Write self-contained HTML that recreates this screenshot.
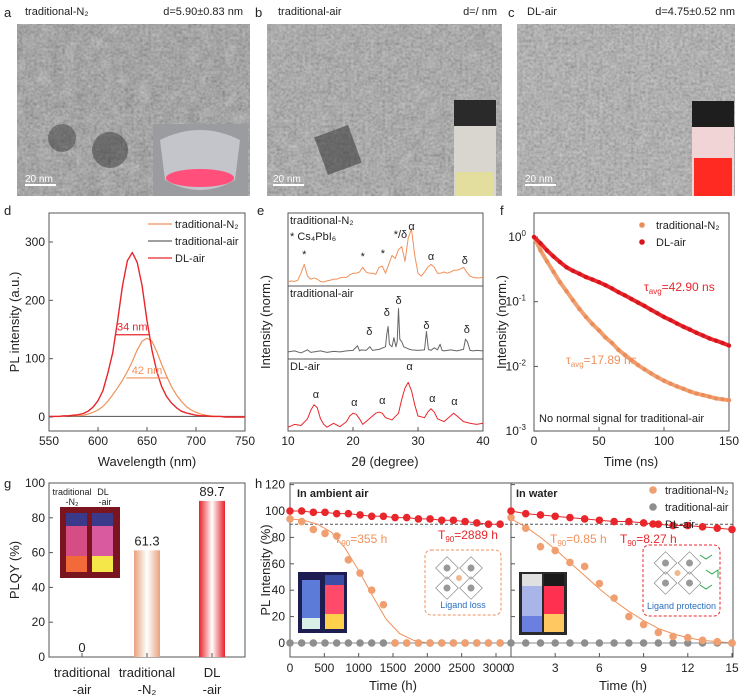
<!DOCTYPE html>
<html><head><meta charset="utf-8"><style>
html,body{margin:0;padding:0;background:#fff}
svg{display:block;font-family:"Liberation Sans",sans-serif}
</style></head><body>
<svg id="fig" width="746" height="697" viewBox="0 0 746 697" xmlns="http://www.w3.org/2000/svg">
<defs>
<filter id="noise" x="0" y="0" width="100%" height="100%"><feTurbulence type="fractalNoise" baseFrequency="0.35" numOctaves="2" seed="3"/><feColorMatrix type="saturate" values="0"/><feComponentTransfer><feFuncA type="linear" slope="0" intercept="1"/></feComponentTransfer></filter>
<filter id="noise2" x="0" y="0" width="100%" height="100%"><feTurbulence type="fractalNoise" baseFrequency="0.08" numOctaves="3" seed="7"/><feColorMatrix type="saturate" values="0"/></filter>
<linearGradient id="barN2" x1="0" x2="1"><stop offset="0" stop-color="#e8a27c"/><stop offset="0.5" stop-color="#fff"/><stop offset="1" stop-color="#e8a27c"/></linearGradient>
<linearGradient id="barDL" x1="0" x2="1"><stop offset="0" stop-color="#e8202a"/><stop offset="0.5" stop-color="#fff"/><stop offset="1" stop-color="#e8202a"/></linearGradient>
</defs>
</svg>
<script>
// ---------- data ----------
const dWave=[550,555,560,565,570,575,580,585,590,595,600,605,610,615,620,625,630,635,640,645,650,655,660,665,670,675,680,685,690,695,700,705,710,715,720,725,730,735,740,745,750];
const dDL=[1,1,1,2,2,3,4,6,10,17,28,45,75,110,165,225,268,282,265,225,165,115,78,52,35,24,16,10,7,5,3,2,2,1,1,1,0,0,0,0,0];
const dN2=[1,1,1,1,2,2,2,3,5,8,12,18,27,38,50,63,78,95,115,130,135,130,112,90,70,52,38,27,18,12,8,5,3,2,1,1,0,0,0,0,0];
const dAir=[1,1,1,1,1,1,1,1,1,1,1,1,1,1,1,1,1,1,1,1,1,1,1,1,1,1,1,1,1,1,1,1,1,1,1,1,1,1,1,1,1];
const dTicksX=[550,600,650,700,750];
const dTicksY=[0,100,200,300];

const eThetaN2=[10,10.5,11,11.5,12,12.5,13,13.5,14,14.5,15,15.5,16,16.5,17,17.5,18,18.5,19,19.5,20,20.5,21,21.5,22,22.5,23,23.5,24,24.5,25,25.5,26,26.5,27,27.5,28,28.5,29,29.5,30,30.5,31,31.5,32,32.5,33,33.5,34,34.5,35,35.5,36,36.5,37,37.5,38,38.5,39,39.5,40];
const eN2=[0.05,0.07,0.06,0.08,0.2,0.35,0.15,0.1,0.12,0.1,0.06,0.05,0.07,0.08,0.1,0.1,0.12,0.13,0.13,0.17,0.2,0.2,0.22,0.3,0.22,0.2,0.2,0.18,0.3,0.32,0.2,0.35,0.5,0.45,0.6,0.65,0.4,0.8,0.95,0.5,0.2,0.15,0.22,0.3,0.35,0.3,0.2,0.2,0.22,0.2,0.22,0.25,0.25,0.27,0.3,0.22,0.15,0.13,0.12,0.12,0.13];
const eThetaAir=[10,11,12,13,13.5,14,15,16,17,18,19,20,20.7,21,21.3,22,22.6,23,24,25,25.2,25.4,25.6,26,26.3,26.6,26.8,27,27.2,27.5,27.8,28.5,29,30,31,31.3,31.6,32,32.5,33,33.4,33.7,34,35,36,37,37.3,37.6,38,38.5,39,40];
const eAir=[0.1,0.12,0.08,0.14,0.09,0.1,0.12,0.09,0.11,0.1,0.12,0.13,0.22,0.12,0.14,0.13,0.2,0.13,0.15,0.2,0.45,0.6,0.25,0.2,0.38,0.2,0.3,0.95,0.35,0.3,0.2,0.16,0.14,0.13,0.14,0.5,0.15,0.13,0.18,0.14,0.25,0.13,0.12,0.14,0.12,0.15,0.35,0.3,0.13,0.12,0.13,0.12];
const eThetaDL=[10,11,12,13,13.5,14,14.5,15,15.5,16,17,18,19,19.5,20,20.5,21,21.5,22,23,23.5,24,24.5,25,26,27,27.5,28,28.5,29,29.5,30,31,31.5,32,32.5,33,34,35,35.5,36,37,38,39,40];
const eDL=[0.05,0.1,0.08,0.2,0.35,0.45,0.4,0.2,0.1,0.05,0.12,0.06,0.15,0.25,0.3,0.28,0.2,0.1,0.15,0.25,0.3,0.32,0.3,0.22,0.18,0.3,0.55,0.75,0.85,0.7,0.45,0.25,0.22,0.32,0.38,0.32,0.2,0.15,0.25,0.3,0.25,0.15,0.12,0.1,0.12];
const eTicksX=[10,20,30,40];

const fTime=[0,5,10,15,20,25,30,35,40,45,50,55,60,65,70,75,80,85,90,95,100,105,110,115,120,125,130,135,140,145,150];
const fDL=[1,0.8,0.62,0.5,0.41,0.34,0.3,0.27,0.24,0.22,0.2,0.18,0.16,0.14,0.125,0.11,0.097,0.086,0.075,0.066,0.058,0.052,0.046,0.041,0.037,0.033,0.03,0.027,0.025,0.023,0.021];
const fN2=[1,0.62,0.42,0.29,0.2,0.145,0.105,0.077,0.058,0.045,0.036,0.028,0.023,0.018,0.015,0.0125,0.0105,0.009,0.0078,0.0068,0.006,0.0054,0.0049,0.0045,0.0041,0.0038,0.0036,0.0034,0.0032,0.0031,0.003];
const fTicksX=[0,50,100,150];
const fTicksExp=[0,-1,-2,-3];

const gCats=["traditional\n-air","traditional\n-N2","DL\n-air"];
const gVals=[0,61.3,89.7];
const gTicksY=[0,20,40,60,80,100];

const hAirT=[0,170,340,510,680,850,1020,1190,1360,1530,1700,1870,2040,2210,2380,2550,2720,2890,3060];
const hAirDL=[100,100,99,99,98,98,97,96,96,95,95,94,94,93,93,92,91,90,90];
const hAirN2=[94,92,86,83,81,63,53,40,29,0,0,0,0,0,0,0,0,0,0];
const hAirGray=[0,0,0,0,0,0,0,0,0,0,0,0,0,0,0,0,0,0,0];
const hAirFitT=[0,200,400,600,800,1000,1200,1400,1600,1800,2000,2400,2800,3060];
const hAirFitN2=[94,93,90,84,72,55,36,18,7,2,0,0,0,0];
const hWatT=[0,1,2,3,4,5,6,7,8,9,10,11,12,13,14,15];
const hWatDL=[100,98,97,96,95,94,93,92,92,91,90,89,89,88,87,86];
const hWatN2=[95,87,73,70,61,58,45,34,20,14,8,5,4,2,1,0];
const hWatGray=[0,0,0,0,0,0,0,0,0,0,0,0,0,0,0,0];
const hWatFitT=[0,1,2,3,4,5,6,7,8,9,10,11,12,13,14,15];
const hWatFitN2=[94,88,80,71,61,51,41,32,24,17,11,7,4,2,1,0];
const hTicksY=[0,20,40,60,80,100,120];
const hAirTicks=[0,500,1000,1500,2000,2500,3000];
const hWatTicks=[0,3,6,9,12,15];

// ---------- helpers ----------
const svg=document.getElementById('fig');
const NS='http://www.w3.org/2000/svg';
function el(tag,attrs,parent,text){const e=document.createElementNS(NS,tag);for(const k in attrs)e.setAttribute(k,attrs[k]);if(text!==undefined)e.textContent=text;(parent||svg).appendChild(e);return e;}
function lin(d0,d1,r0,r1){return v=>r0+(v-d0)/(d1-d0)*(r1-r0);}
function txt(x,y,s,opt,parent){opt=opt||{};const t=el('text',{x:x,y:y,'font-size':opt.size||12,fill:opt.fill||'#222','text-anchor':opt.anchor||'start'},parent);if(opt.rot)t.setAttribute('transform',`rotate(${opt.rot} ${x} ${y})`);if(opt.weight)t.setAttribute('font-weight',opt.weight);t.textContent=s;return t;}
function line(pts,color,w,parent,name){const p=el('polyline',{points:pts.map(p=>p.join(',')).join(' '),fill:'none',stroke:color,'stroke-width':w||1.2,'stroke-linejoin':'round'},parent);return p;}
function box(x,y,w,h,name){const r=el('rect',{x:x,y:y,width:w,height:h,fill:'none',stroke:'#555','stroke-width':1});return r;}

// ---------- panels a-c (TEM) ----------
function tem(x,y,w,h,name,base,op){
  const g=el('g',{});
  el('rect',{x:x,y:y,width:w,height:h,fill:base},g);
  el('rect',{x:x,y:y,width:w,height:h,filter:'url(#noise)',opacity:0.55},g);
  el('rect',{x:x,y:y,width:w,height:h,filter:'url(#noise2)',opacity:op},g);
  return g;
}
const ga=tem(17,24,233,172,'tem-image-a','#7c7c7c',0.45);
el('circle',{cx:110,cy:150,r:18,fill:'#333',opacity:0.5},ga);el('circle',{cx:62,cy:138,r:14,fill:'#333',opacity:0.45},ga);
el('rect',{x:153,y:124,width:95,height:72,fill:'#9b9ca0'},ga);
el('path',{d:'M160,140 Q200,120 240,140 L235,180 Q200,200 165,180 Z',fill:'#c9c9cf',opacity:0.9},ga);
el('ellipse',{cx:200,cy:178,rx:34,ry:9,fill:'#ff4f7a'},ga);
el('line',{x1:25,y1:185,x2:56,y2:185,stroke:'#fff','stroke-width':2},ga);
txt(25,182,'20 nm',{size:10,fill:'#fff',name:'scale-bar-label'});
const gb=tem(267,24,235,172,'tem-image-b','#8e8e8e',0.35);
el('rect',{x:320,y:130,width:36,height:40,fill:'#333',opacity:0.55,transform:'rotate(-20 338 150)'},gb);
el('rect',{x:454,y:126,width:42,height:70,fill:'#d8d6cf'},gb);
el('rect',{x:454,y:100,width:42,height:26,fill:'#2a2a2a'},gb);
el('rect',{x:456,y:172,width:38,height:24,fill:'#e4de9e'},gb);
el('line',{x1:273,y1:185,x2:304,y2:185,stroke:'#fff','stroke-width':2},gb);
txt(273,182,'20 nm',{size:10,fill:'#fff',name:'scale-bar-label'});
const gc=tem(517,24,218,172,'tem-image-c','#9e9e9e',0.25);
el('rect',{x:692,y:126,width:42,height:70,fill:'#f0d4d6'},gc);
el('rect',{x:692,y:101,width:42,height:26,fill:'#1e1e1e'},gc);
el('rect',{x:694,y:158,width:38,height:38,fill:'#ff2a22'},gc);
el('line',{x1:525,y1:185,x2:556,y2:185,stroke:'#fff','stroke-width':2},gc);
txt(525,182,'20 nm',{size:10,fill:'#fff',name:'scale-bar-label'});
txt(4,17,'a',{size:13,name:'panel-label-a'});
txt(25,15,'traditional-N₂',{size:11,name:'title-a'});
txt(243,15,'d=5.90±0.83 nm',{size:11,anchor:'end',name:'size-a'});
txt(255,17,'b',{size:13,name:'panel-label-b'});
txt(278,15,'traditional-air',{size:11,name:'title-b'});
txt(497,15,'d=/ nm',{size:11,anchor:'end',name:'size-b'});
txt(508,17,'c',{size:13,name:'panel-label-c'});
txt(527,15,'DL-air',{size:11,name:'title-c'});
txt(735,15,'d=4.75±0.52 nm',{size:11,anchor:'end',name:'size-c'});

// ---------- panel d ----------
{
const X=lin(550,750,49,245),Y=lin(0,300,417,242);
txt(4,215,'d',{size:13,name:'panel-label-d'});
box(49,213,196,218,'plot-area-d');
dTicksX.forEach(v=>{el('line',{x1:X(v),y1:431,x2:X(v),y2:427,stroke:'#555'});txt(X(v),445,v,{anchor:'middle',name:'x-tick-d'});});
dTicksY.forEach(v=>{el('line',{x1:49,y1:Y(v),x2:53,y2:Y(v),stroke:'#555'});txt(45,Y(v)+4,v,{anchor:'end',name:'y-tick-d'});});
txt(147,466,'Wavelength (nm)',{size:13,anchor:'middle',name:'x-axis-title-d'});
txt(19,322,'PL intensity (a.u.)',{size:13,anchor:'middle',rot:-90,name:'y-axis-title-d'});
line(dWave.map((w,i)=>[X(w),Y(dAir[i])]),'#666',1.2,null,'line-traditional-air');
line(dWave.map((w,i)=>[X(w),Y(dN2[i])]),'#f0915a',1.2,null,'line-traditional-n2');
line(dWave.map((w,i)=>[X(w),Y(dDL[i])]),'#e8262b',1.4,null,'line-dl-air');
el('line',{x1:X(618),y1:Y(141),x2:X(652),y2:Y(141),stroke:'#e8262b','stroke-width':1.2});
txt(X(635),Y(148),'34 nm',{size:11,fill:'#e8262b',anchor:'middle',name:'fwhm-dl'});
el('line',{x1:X(629),y1:Y(67),x2:X(671),y2:Y(67),stroke:'#f0915a','stroke-width':1.2});
txt(X(650),Y(74),'42 nm',{size:11,fill:'#f0915a',anchor:'middle',name:'fwhm-n2'});
[['traditional-N₂','#f0915a'],['traditional-air','#666'],['DL-air','#e8262b']].forEach((l,i)=>{const y=224+i*17;el('line',{x1:148,y1:y,x2:172,y2:y,stroke:l[1],'stroke-width':1.3});txt(175,y+4,l[0],{size:11,name:'legend-entry-d'});});
}
// ---------- panel e ----------
{
const X=lin(10,40,288,483);
txt(257,215,'e',{size:13,name:'panel-label-e'});
box(288,213,195,218,'plot-area-e');
el('line',{x1:288,y1:286,x2:483,y2:286,stroke:'#555'});el('line',{x1:288,y1:359,x2:483,y2:359,stroke:'#555'});
eTicksX.forEach(v=>{el('line',{x1:X(v),y1:431,x2:X(v),y2:427,stroke:'#555'});txt(X(v),445,v,{anchor:'middle',name:'x-tick-e'});});
txt(385,466,'2θ (degree)',{size:13,anchor:'middle',name:'x-axis-title-e'});
txt(270,322,'Intensity (norm.)',{size:13,anchor:'middle',rot:-90,name:'y-axis-title-e'});
const Y1=lin(0,1,285,226),Y2=lin(0,1,357,306),Y3=lin(0,1,430,374);
line(eThetaN2.map((t,i)=>[X(t),Y1(eN2[i])]),'#f0915a',1,null,'xrd-traditional-n2');
line(eThetaAir.map((t,i)=>[X(t),Y2(eAir[i])]),'#666',1,null,'xrd-traditional-air');
line(eThetaDL.map((t,i)=>[X(t),Y3(eDL[i])]),'#e8262b',1,null,'xrd-dl-air');
txt(290,224,'traditional-N₂',{size:11,name:'subtitle-n2'});
txt(290,240,'* Cs₄PbI₆',{size:11,name:'cs4pbi6-note'});
txt(290,297,'traditional-air',{size:11,name:'subtitle-air'});
txt(290,370,'DL-air',{size:11,name:'subtitle-dl'});
[[12.5,258,'*'],[21.5,260,'*'],[24.6,257,'*'],[27.3,238,'*/δ'],[29,230,'α'],[32,260,'α'],[37.2,264,'δ']].forEach(a=>txt(X(a[0]),a[1],a[2],{size:11,anchor:'middle',name:'peak-label'}));
[[25.2,316,'δ'],[27,304,'δ'],[31.3,329,'δ'],[37.5,333,'δ'],[22.5,335,'δ']].forEach(a=>txt(X(a[0]),a[1],a[2],{size:11,anchor:'middle',name:'peak-label'}));
[[14.3,398,'α'],[20.2,406,'α'],[24.5,404,'α'],[28.7,370,'α'],[32.2,402,'α'],[35.6,405,'α']].forEach(a=>txt(X(a[0]),a[1],a[2],{size:11,anchor:'middle',name:'peak-label'}));
}
// ---------- panel f ----------
{
const X=lin(0,150,534,729),Y=v=>237-Math.log10(v)*64.7;
txt(500,215,'f',{size:13,name:'panel-label-f'});
box(534,213,195,218,'plot-area-f');
fTicksX.forEach(v=>{el('line',{x1:X(v),y1:431,x2:X(v),y2:427,stroke:'#555'});txt(X(v),445,v,{anchor:'middle',name:'x-tick-f'});});
fTicksExp.forEach(e=>{const y=Y(Math.pow(10,e));el('line',{x1:534,y1:y,x2:538,y2:y,stroke:'#555'});const t=txt(526,y+4,'10',{anchor:'end',name:'y-tick-f'});el('tspan',{dy:-5,'font-size':8},t,e===0?'0':String(e));});
txt(631,466,'Time (ns)',{size:13,anchor:'middle',name:'x-axis-title-f'});
txt(506,322,'Intensity (norm.)',{size:13,anchor:'middle',rot:-90,name:'y-axis-title-f'});
line(fTime.map((t,i)=>[X(t),Y(fN2[i])]),'#f0a070',4,null,'decay-band-n2');
line(fTime.map((t,i)=>[X(t),Y(fDL[i])]),'#e8262b',4,null,'decay-band-dl');
fTime.forEach((t,i)=>{const c=el('circle',{cx:X(t),cy:Y(fN2[i]),r:2.2,fill:'#eb8d5a'});});
fTime.forEach((t,i)=>{const c=el('circle',{cx:X(t),cy:Y(fDL[i]),r:2.2,fill:'#d8141c'});});
const t1=txt(644,291,'τ',{size:12,fill:'#e8262b',name:'tau-dl'});el('tspan',{dy:3,'font-size':8},t1,'avg');el('tspan',{dy:-3},t1,'=42.90 ns');
const t2=txt(566,364,'τ',{size:12,fill:'#f0915a',name:'tau-n2'});el('tspan',{dy:3,'font-size':8},t2,'avg');el('tspan',{dy:-3},t2,'=17.89 ns');
txt(539,422,'No normal signal for traditional-air',{size:11,name:'note-f'});
[['traditional-N₂','#eb8d5a'],['DL-air','#d8141c']].forEach((l,i)=>{const y=225+i*17;el('circle',{cx:642,cy:y,r:2.8,fill:l[1]});txt(656,y+4,l[0],{size:11,name:'legend-entry-f'});});
}
// ---------- panel g ----------
{
const Y=lin(0,100,657,483),xs=[82,147,212];
txt(4,488,'g',{size:13,name:'panel-label-g'});
box(49,483,196,174,'plot-area-g');
gTicksY.forEach(v=>{el('line',{x1:49,y1:Y(v),x2:53,y2:Y(v),stroke:'#555'});txt(45,Y(v)+4,v,{anchor:'end',name:'y-tick-g'});});
txt(19,570,'PLQY (%)',{size:13,anchor:'middle',rot:-90,name:'y-axis-title-g'});
const fills=['none','url(#barN2)','url(#barDL)'];
gVals.forEach((v,i)=>{
  const r=el('rect',{x:xs[i]-13,y:Y(v),width:26,height:Y(0)-Y(v),fill:fills[i]});
  
  txt(xs[i],Y(v)-5,String(v),{size:13,anchor:'middle',name:'bar-value'});
  el('line',{x1:xs[i],y1:657,x2:xs[i],y2:653,stroke:'#555'});
  const p=gCats[i].split('\n');
  txt(xs[i],677,p[0],{size:13,anchor:'middle',name:'x-category'});
  txt(xs[i],694,p[1].replace('N2','N₂'),{size:13,anchor:'middle',name:'x-category'});
});
const ig=el('g',{});
el('rect',{x:60,y:507,width:60,height:71,fill:'#7a1520'},ig);
el('rect',{x:66,y:513,width:21,height:13,fill:'#3b3a8a'},ig);el('rect',{x:92,y:513,width:21,height:13,fill:'#3b3a8a'},ig);
el('rect',{x:66,y:526,width:21,height:46,fill:'#d64d86'},ig);el('rect',{x:92,y:526,width:21,height:46,fill:'#d95a9e'},ig);
el('rect',{x:66,y:556,width:21,height:16,fill:'#f26a3a'},ig);el('rect',{x:92,y:556,width:21,height:16,fill:'#f5e64a'},ig);
txt(72,495,'traditional',{size:9,anchor:'middle',name:'photo-label'});txt(72,505,'-N₂',{size:9,anchor:'middle',name:'photo-label'});
txt(103,495,'DL',{size:9,anchor:'middle',name:'photo-label'});txt(105,505,'-air',{size:9,anchor:'middle',name:'photo-label'});
}
// ---------- panel h ----------
{
const Y=lin(0,100,643,511),XA=lin(0,3000,290,496),XW=lin(0,15,511,732);
txt(255,488,'h',{size:13,name:'panel-label-h'});
box(290,483,443,174,'plot-area-h');
el('line',{x1:511,y1:483,x2:511,y2:657,stroke:'#555'});
hTicksY.forEach(v=>{el('line',{x1:290,y1:Y(v),x2:294,y2:Y(v),stroke:'#555'});el('line',{x1:511,y1:Y(v),x2:515,y2:Y(v),stroke:'#555'});txt(285,Y(v)+4,v,{anchor:'end',name:'y-tick-h'});});
txt(270,570,'PL Intensity (%)',{size:13,anchor:'middle',rot:-90,name:'y-axis-title-h'});
hAirTicks.forEach(v=>{el('line',{x1:XA(v),y1:657,x2:XA(v),y2:653,stroke:'#555'});txt(XA(v),672,v,{anchor:'middle',name:'x-tick-h-air'});});
hWatTicks.forEach(v=>{el('line',{x1:XW(v),y1:657,x2:XW(v),y2:653,stroke:'#555'});txt(XW(v),672,v,{anchor:'middle',name:'x-tick-h-water'});});
txt(393,690,'Time (h)',{size:13,anchor:'middle',name:'x-axis-title-h-air'});
txt(623,690,'Time (h)',{size:13,anchor:'middle',name:'x-axis-title-h-water'});
el('line',{x1:290,y1:Y(90),x2:733,y2:Y(90),stroke:'#555','stroke-dasharray':'3,2'});
const i1=el('g',{});
el('rect',{x:298,y:572,width:49,height:61,fill:'#1d1d52'},i1);
el('rect',{x:302,y:580,width:18,height:49,fill:'#5c7bd8'},i1);el('rect',{x:302,y:618,width:18,height:11,fill:'#d8f0e8'},i1);
el('rect',{x:325,y:575,width:19,height:10,fill:'#3a4ea8'},i1);el('rect',{x:325,y:585,width:19,height:44,fill:'#ff4a6a'},i1);el('rect',{x:325,y:614,width:19,height:15,fill:'#ffd04a'},i1);
const i2=el('g',{});
el('rect',{x:519,y:572,width:48,height:63,fill:'#2a2a2a'},i2);
el('rect',{x:522,y:574,width:20,height:12,fill:'#e0e0e0'},i2);el('rect',{x:522,y:586,width:20,height:46,fill:'#a9b5e8'},i2);el('rect',{x:522,y:616,width:20,height:16,fill:'#6a7fe0'},i2);
el('rect',{x:544,y:574,width:20,height:12,fill:'#1a1a1a'},i2);el('rect',{x:544,y:586,width:20,height:46,fill:'#ff3050'},i2);el('rect',{x:544,y:614,width:20,height:18,fill:'#ffc860'},i2);
function crystal(x0,y0,w,h,name,c1,label,lc){const g=el('g',{});
 el('rect',{x:x0,y:y0,width:w,height:h,rx:6,fill:'#fff',stroke:c1,'stroke-dasharray':'3,2'},g);
 const cx=x0+w/2-4,cy=y0+28;[[-12,-10],[12,-10],[-12,10],[12,10]].forEach(o=>{el('rect',{x:cx+o[0]-8,y:cy+o[1]-8,width:16,height:16,fill:'none',stroke:'#888','stroke-width':0.7,transform:`rotate(45 ${cx+o[0]} ${cy+o[1]})`},g);el('circle',{cx:cx+o[0],cy:cy+o[1],r:3.5,fill:'#999'},g);});
 el('circle',{cx:cx,cy:cy,r:3,fill:'#f0b890'},g);
 txt(x0+w/2,y0+h-7,label,{size:9,fill:lc,anchor:'middle',name:'schematic-label'});}
crystal(425,550,76,65,'ligand-loss-schematic','#f0915a','Ligand loss','#2a6fc0');
crystal(643,545,77,71,'ligand-protection-schematic','#e8262b','Ligand protection','#2a6fc0');
el('path',{d:'M700,555 l6,4 l6,-4 M706,570 l6,4 l6,-4 l0,8 M700,585 l6,4 l6,-4',fill:'none',stroke:'#2aa84a','stroke-width':1});
line(hAirFitT.map((t,i)=>[XA(t),Y(hAirFitN2[i])]),'#f0915a',1,null,'fit-air-n2');
line(hWatFitT.map((t,i)=>[XW(t),Y(hWatFitN2[i])]),'#f0915a',1,null,'fit-water-n2');
line(hAirT.map((t,i)=>[XA(t),Y(hAirDL[i])]),'#e8262b',1,null,'fit-air-dl');
line(hWatT.map((t,i)=>[XW(t),Y(hWatDL[i])]),'#e8262b',1,null,'fit-water-dl');
el('line',{x1:290,y1:Y(0),x2:733,y2:Y(0),stroke:'#888','stroke-width':1});
function pts(T,V,X,col,name){T.forEach((t,i)=>{const c=el('circle',{cx:X(t),cy:Y(V[i]),r:3.8,fill:col});});}
pts(hAirT,hAirGray,XA,'#8e8e8e','point-air-traditional-air');
pts(hAirT,hAirN2,XA,'#f0a070','point-air-traditional-n2');
pts(hAirT,hAirDL,XA,'#e8262b','point-air-dl');
pts(hWatT,hWatGray,XW,'#8e8e8e','point-water-traditional-air');
pts(hWatT,hWatN2,XW,'#f0a070','point-water-traditional-n2');
pts(hWatT,hWatDL,XW,'#e8262b','point-water-dl');
txt(297,497,'In ambient air',{size:11,weight:'bold',name:'subtitle-ambient-air'});
txt(516,497,'In water',{size:11,weight:'bold',name:'subtitle-water'});
let t=txt(334,543,'T',{size:12,fill:'#f0915a',name:'t90-air-n2'});el('tspan',{dy:3,'font-size':8},t,'90');el('tspan',{dy:-3},t,'=355 h');
t=txt(438,539,'T',{size:12,fill:'#e8262b',name:'t90-air-dl'});el('tspan',{dy:3,'font-size':8},t,'90');el('tspan',{dy:-3},t,'=2889 h');
t=txt(550,543,'T',{size:12,fill:'#f0915a',name:'t90-water-n2'});el('tspan',{dy:3,'font-size':8},t,'90');el('tspan',{dy:-3},t,'=0.85 h');
t=txt(620,543,'T',{size:12,fill:'#e8262b',name:'t90-water-dl'});el('tspan',{dy:3,'font-size':8},t,'90');el('tspan',{dy:-3},t,'=8.27 h');
[['traditional-N₂','#f0a070'],['traditional-air','#8e8e8e'],['DL-air','#e8262b']].forEach((l,i)=>{const y=490+i*17;el('circle',{cx:653,cy:y,r:3.8,fill:l[1]});txt(665,y+4,l[0],{size:11,name:'legend-entry-h'});});
}
</script>
</body></html>
